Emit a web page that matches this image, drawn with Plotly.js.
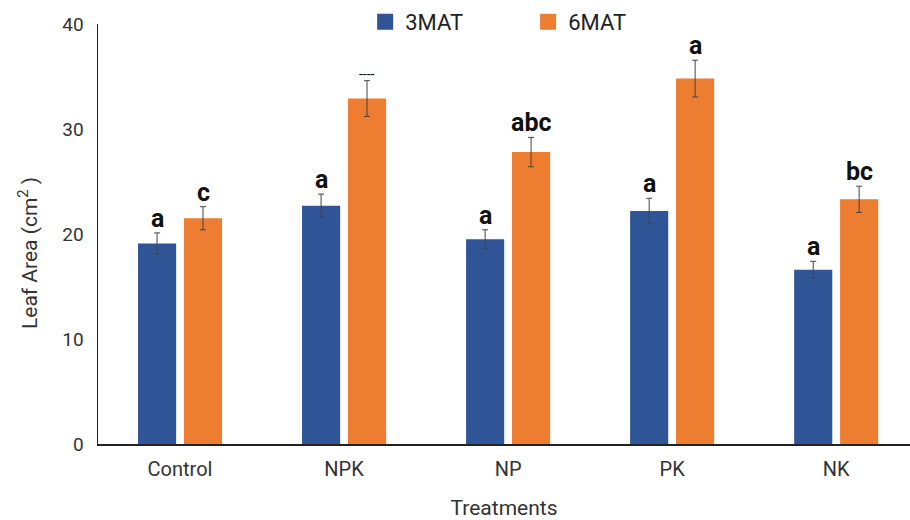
<!DOCTYPE html>
<html>
<head>
<meta charset="utf-8">
<script src="https://cdn.plot.ly/plotly-3.0.1.min.js"></script>
<style>
  html, body { margin: 0; padding: 0; background: #ffffff; }
  #chart { width: 910px; height: 520px; }
</style>
</head>
<body>
<div id="chart"></div>
<script>
// Leaf area per fertiliser treatment at 3 and 6 months after transplanting
const treatments = ['Control', 'NPK', 'NP', 'PK', 'NK'];
const area3MAT = [19.1, 22.7, 19.5, 22.2, 16.6];
const err3MAT = [1.0, 1.1, 0.9, 1.2, 0.8];
const area6MAT = [21.5, 32.9, 27.8, 34.8, 23.3];
const err6MAT = [1.1, 1.7, 1.4, 1.75, 1.25];
const letters3MAT = ['a', 'a', 'a', 'a', 'a'];
const letters6MAT = ['c', '----', 'abc', 'a', 'bc'];

const FONT = 'Roboto, "Noto Sans", Arial, sans-serif';
const BLUE = '#2F5597';
const ORANGE = '#ED7D31';
const OFFSET = 23; // px from category centre to each bar centre

function errorStyle(arr) {
  return { type: 'data', array: arr, visible: true, color: '#444444', thickness: 1, width: 3 };
}

// bars carry the data; two point-less square-marker traces give larger legend keys
const traces = [
  {
    type: 'bar', name: '3MAT', x: treatments, y: area3MAT, showlegend: false,
    marker: { color: BLUE }, error_y: errorStyle(err3MAT)
  },
  {
    type: 'bar', name: '6MAT', x: treatments, y: area6MAT, showlegend: false,
    marker: { color: ORANGE }, error_y: errorStyle(err6MAT)
  },
  {
    type: 'scatter', mode: 'markers', name: '3MAT', x: [null], y: [null], showlegend: true,
    marker: { color: BLUE, symbol: 'square', size: 16 }
  },
  {
    type: 'scatter', mode: 'markers', name: '6MAT', x: [null], y: [null], showlegend: true,
    marker: { color: ORANGE, symbol: 'square', size: 16 }
  }
];

// significance letters sit just above each error bar
const annotations = [];
treatments.forEach((t, i) => {
  annotations.push({
    x: t, y: area3MAT[i] + err3MAT[i], xref: 'x', yref: 'y',
    text: letters3MAT[i], showarrow: false, xshift: -OFFSET, yanchor: 'bottom', yshift: -2,
    font: { family: FONT, size: 25, color: '#111111', weight: 'bold' }
  });
  const dashed = letters6MAT[i].startsWith('-');
  annotations.push({
    x: t, y: area6MAT[i] + err6MAT[i], xref: 'x', yref: 'y',
    text: letters6MAT[i], showarrow: false, xshift: OFFSET,
    yanchor: dashed ? 'middle' : 'bottom',
    yshift: dashed ? 7 : -2,
    font: { family: FONT, size: dashed ? 14 : 25, color: '#111111', weight: dashed ? 'normal' : 'bold' }
  });
});

// y-axis title, set a little below the axis midpoint
annotations.push({
  xref: 'paper', yref: 'paper', x: -0.086, y: 0.455, xanchor: 'center', yanchor: 'middle',
  textangle: -90, showarrow: false,
  text: 'Leaf Area (cm<sup>2</sup> )',
  font: { family: FONT, size: 21, color: '#333333' }
});

const layout = {
  width: 910, height: 520,
  margin: { l: 98, r: 0, t: 24, b: 76 },
  paper_bgcolor: '#ffffff', plot_bgcolor: '#ffffff',
  font: { family: FONT, color: '#333333' },
  barmode: 'group', bargap: 0.44, bargroupgap: 0.17,
  showlegend: true,
  legend: {
    orientation: 'h', x: 0.329, xanchor: 'left',
    y: 1.005, yanchor: 'middle',
    font: { family: FONT, size: 22, color: '#222222' },
    itemwidth: 30, entrywidth: 118, itemsizing: 'trace'
  },
  xaxis: {
    range: [-0.5, 4.45],
    showline: true, linecolor: '#222222', linewidth: 1.5,
    showgrid: false, zeroline: false, ticks: '',
    tickfont: { family: FONT, size: 20, color: '#333333' },
    ticklabelstandoff: 6,
    title: { text: 'Treatments', font: { family: FONT, size: 21, color: '#333333' }, standoff: 34 }
  },
  yaxis: {
    range: [0, 40], dtick: 10,
    showline: true, linecolor: '#222222', linewidth: 1.5,
    showgrid: false, zeroline: false, ticks: '',
    tickfont: { family: FONT, size: 19, color: '#333333' },
    ticklabelstandoff: 9
  },
  annotations: annotations
};

Plotly.newPlot('chart', traces, layout, { displayModeBar: false, staticPlot: true });
</script>
</body>
</html>
